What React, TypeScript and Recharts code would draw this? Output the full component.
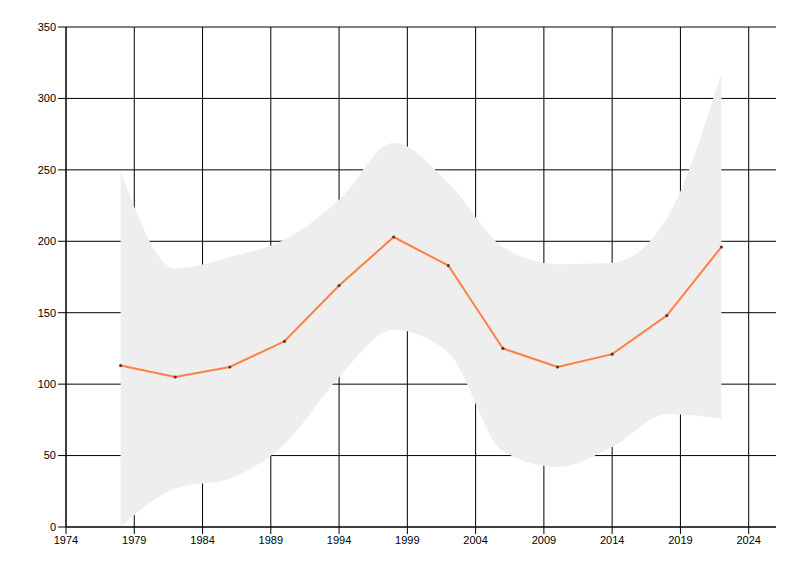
import React from "react";
import { ComposedChart, Area, Line, XAxis, YAxis, CartesianGrid } from "recharts";

const years = [1978, 1982, 1986, 1990, 1994, 1998, 2002, 2006, 2010, 2014, 2018, 2022];
const values = [113, 105, 112, 130, 169, 203, 183, 125, 112, 121, 148, 196];
const bandHigh = [249, 181, 189, 201, 229, 269, 241, 196, 184, 185, 216, 318];
const bandLow = [0, 27, 34, 58, 105, 138, 122, 53, 42, 56, 79, 76];
const xTicks = [1974, 1979, 1984, 1989, 1994, 1999, 2004, 2009, 2014, 2019, 2024];
const yTicks = [0, 50, 100, 150, 200, 250, 300, 350];

const data = years.map((y, i) => ({
  year: y,
  value: values[i],
  band: [bandLow[i], bandHigh[i]],
}));

const tickStyle = { fontFamily: "Liberation Sans, Arial, sans-serif", fontSize: 11, fill: "#000" };

const Dot = (props: any) => {
  const { cx, cy } = props;
  if (cx == null || cy == null) return null;
  return <circle cx={cx} cy={cy} r={1.6} fill="#5a3a2a" stroke="none" />;
};

const xMin = 1974;
const xMax = 2026;

export default function App() {
  return (
    <ComposedChart
      width={784}
      height={560}
      data={data}
      margin={{ top: 19, right: 16, bottom: 11, left: 0 }}
    >
      <CartesianGrid
        stroke="#000"
        strokeWidth={1}
        verticalCoordinatesGenerator={({ offset }: any) =>
          xTicks.map((t) => offset.left + ((t - xMin) / (xMax - xMin)) * offset.width)
        }
      />
      <XAxis
        dataKey="year"
        type="number"
        domain={[xMin, xMax]}
        ticks={xTicks}
        interval={0}
        height={30}
        tick={tickStyle}
        tickSize={7}
        stroke="#000"
        axisLine={{ stroke: "#000" }}
        tickLine={{ stroke: "#000" }}
        allowDataOverflow
      />
      <YAxis
        type="number"
        domain={[0, 350]}
        ticks={yTicks}
        interval={0}
        width={58}
        tick={tickStyle}
        tickSize={8}
        tickMargin={2}
        stroke="#000"
        axisLine={{ stroke: "#000" }}
        tickLine={{ stroke: "#000" }}
      />
      <Area
        dataKey="band"
        type="monotone"
        fill="#eeeeee"
        fillOpacity={1}
        stroke="none"
        isAnimationActive={false}
        activeDot={false}
      />
      <Line
        dataKey="value"
        type="linear"
        stroke="#ff7f40"
        strokeWidth={2}
        dot={<Dot />}
        activeDot={false}
        isAnimationActive={false}
      />
    </ComposedChart>
  );
}
